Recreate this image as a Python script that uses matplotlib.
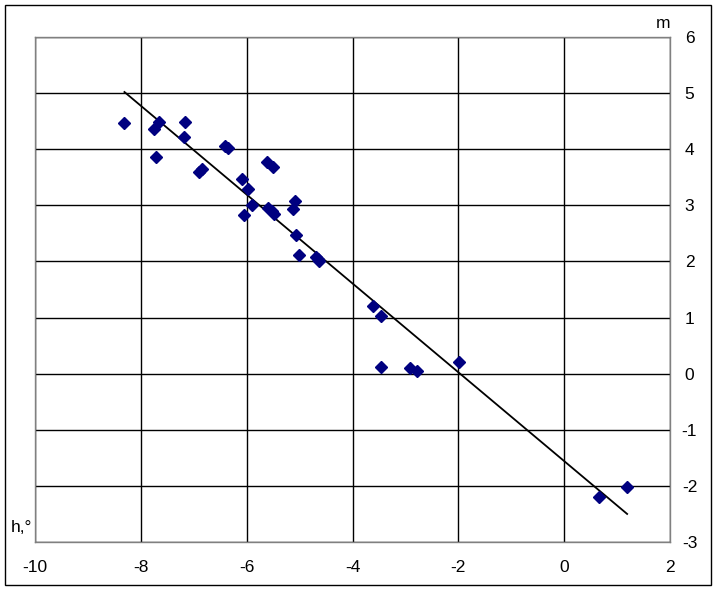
import matplotlib
matplotlib.use("Agg")
import matplotlib.pyplot as plt
from matplotlib.patches import Rectangle

plt.rcParams['font.family'] = ['Liberation Sans', 'DejaVu Sans']
plt.rcParams['axes.unicode_minus'] = False

h_vals = [-8.32, -7.76, -7.65, -7.16, -7.71, -7.18, -6.90, -6.84, -6.41, -6.36,
          -6.08, -5.98, -6.05, -5.89, -5.62, -5.50, -5.60, -5.53, -5.48, -5.09,
          -5.12, -5.07, -5.02, -4.69, -4.65, -4.63, -3.61, -3.47, -3.47, -2.91,
          -2.78, -1.98, 0.66, 1.19]
m_vals = [4.46, 4.36, 4.48, 4.49, 3.86, 4.22, 3.59, 3.64, 4.06, 4.02,
          3.47, 3.30, 2.83, 3.01, 3.77, 3.68, 2.96, 2.90, 2.84, 3.08,
          2.93, 2.47, 2.11, 2.08, 2.04, 2.01, 1.21, 1.03, 0.12, 0.10,
          0.05, 0.21, -2.20, -2.02]

trend_x = [-8.31, 1.19]
trend_y = [5.02, -2.50]

x_ticks = [-10, -8, -6, -4, -2, 0, 2]
y_ticks = [-3, -2, -1, 0, 1, 2, 3, 4, 5, 6]

W, H = 719, 592
fig = plt.figure(figsize=(W / 100, H / 100), dpi=100)
ax = fig.add_axes([35 / W, 1 - 542 / H, (670 - 35) / W, (542 - 37) / H])

ax.set_xlim(-10, 2)
ax.set_ylim(-3, 6)
ax.set_xticks(x_ticks)
ax.set_yticks(y_ticks)
ax.grid(True, color='black', linewidth=1.0)
ax.set_axisbelow(True)
for s in ax.spines.values():
    s.set_color('#808080')
    s.set_linewidth(1.0)

ax.plot(trend_x, trend_y, color='black', linewidth=1.3, zorder=3)
ax.plot(h_vals, m_vals, linestyle='none', marker='D', markersize=6.5,
        color='#000080', markeredgecolor='#000080', zorder=4)

ax.yaxis.tick_right()
ax.tick_params(axis='both', length=0, labelsize=12.5, colors='black')
ax.tick_params(axis='x', pad=13)
ax.tick_params(axis='y', pad=14)
for lbl in ax.get_yticklabels():
    lbl.set_horizontalalignment('center')

fig.text(663 / W, 1 - 24 / H, 'm', fontsize=12.5, ha='center', va='center')
fig.text(21 / W, 1 - 528 / H, 'h,°', fontsize=12.5, ha='center', va='center')

fig.patches.append(Rectangle((5 / W, 1 - 585 / H), (711 - 5) / W, (585 - 5) / H,
                             transform=fig.transFigure, fill=False,
                             edgecolor='black', linewidth=1.0))

fig.savefig('out.png', dpi=100)
